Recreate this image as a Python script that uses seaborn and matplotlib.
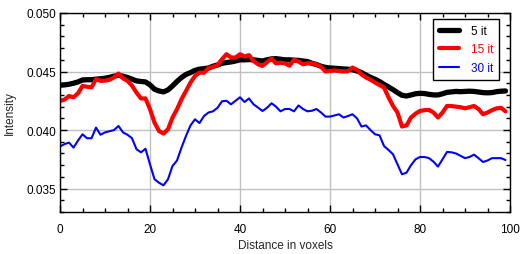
import numpy as np
import pandas as pd
import seaborn as sns
from matplotlib import pyplot as plt
from matplotlib.ticker import MultipleLocator

# Profile data (distance in voxels)
distance = list(range(100))

it5 = [0.04383, 0.04386, 0.04391, 0.04400, 0.04411, 0.04428, 0.04430, 0.04430, 0.04435, 0.04438,
       0.04443, 0.04450, 0.04460, 0.04468, 0.04460, 0.04449, 0.04435, 0.04420, 0.04415, 0.04411,
       0.04386, 0.04349, 0.04334, 0.04326, 0.04343, 0.04377, 0.04415, 0.04449, 0.04475, 0.04491,
       0.04510, 0.04520, 0.04525, 0.04530, 0.04545, 0.04556, 0.04570, 0.04577, 0.04582, 0.04590,
       0.04600, 0.04600, 0.04602, 0.04600, 0.04595, 0.04590, 0.04600, 0.04608, 0.04610, 0.04605,
       0.04600, 0.04600, 0.04597, 0.04595, 0.04590, 0.04585, 0.04570, 0.04560, 0.04545, 0.04535,
       0.04530, 0.04528, 0.04525, 0.04522, 0.04520, 0.04515, 0.04505, 0.04491, 0.04470, 0.04450,
       0.04434, 0.04415, 0.04390, 0.04368, 0.04345, 0.04320, 0.04297, 0.04291, 0.04300, 0.04310,
       0.04314, 0.04312, 0.04305, 0.04300, 0.04300, 0.04310, 0.04322, 0.04326, 0.04330, 0.04328,
       0.04330, 0.04332, 0.04330, 0.04325, 0.04320, 0.04318, 0.04320, 0.04328, 0.04332, 0.04334]

it15 = [0.04249, 0.04260, 0.04291, 0.04280, 0.04314, 0.04377, 0.04370, 0.04365, 0.04434, 0.04420,
        0.04422, 0.04430, 0.04450, 0.04483, 0.04442, 0.04420, 0.04380, 0.04320, 0.04270, 0.04270,
        0.04178, 0.04064, 0.03992, 0.03970, 0.04007, 0.04107, 0.04178, 0.04263, 0.04334, 0.04406,
        0.04462, 0.04491, 0.04490, 0.04530, 0.04540, 0.04555, 0.04605, 0.04648, 0.04620, 0.04620,
        0.04648, 0.04628, 0.04640, 0.04590, 0.04562, 0.04548, 0.04580, 0.04610, 0.04570, 0.04575,
        0.04570, 0.04550, 0.04600, 0.04585, 0.04562, 0.04570, 0.04570, 0.04560, 0.04540, 0.04500,
        0.04505, 0.04508, 0.04505, 0.04500, 0.04503, 0.04534, 0.04515, 0.04475, 0.04449, 0.04430,
        0.04406, 0.04385, 0.04363, 0.04280, 0.04206, 0.04150, 0.04030, 0.04040, 0.04107, 0.04140,
        0.04163, 0.04170, 0.04172, 0.04150, 0.04107, 0.04150, 0.04206, 0.04205, 0.04200, 0.04195,
        0.04186, 0.04195, 0.04206, 0.04180, 0.04135, 0.04150, 0.04170, 0.04185, 0.04190, 0.04160]

it30 = [0.03859, 0.03880, 0.03893, 0.03850, 0.03910, 0.03964, 0.03930, 0.03930, 0.04021, 0.03960,
        0.03980, 0.03990, 0.04000, 0.04035, 0.03980, 0.03960, 0.03930, 0.03836, 0.03810, 0.03840,
        0.03707, 0.03580, 0.03550, 0.03528, 0.03580, 0.03693, 0.03740, 0.03850, 0.03950, 0.04040,
        0.04092, 0.04060, 0.04120, 0.04150, 0.04160, 0.04190, 0.04246, 0.04250, 0.04220, 0.04250,
        0.04280, 0.04240, 0.04270, 0.04220, 0.04192, 0.04163, 0.04190, 0.04229, 0.04200, 0.04160,
        0.04180, 0.04180, 0.04160, 0.04210, 0.04180, 0.04160, 0.04165, 0.04180, 0.04150, 0.04115,
        0.04115, 0.04125, 0.04135, 0.04107, 0.04120, 0.04135, 0.04100, 0.04030, 0.04040, 0.04000,
        0.03964, 0.03955, 0.03864, 0.03830, 0.03793, 0.03707, 0.03622, 0.03636, 0.03700, 0.03750,
        0.03770, 0.03770, 0.03760, 0.03730, 0.03688, 0.03750, 0.03813, 0.03810, 0.03800, 0.03780,
        0.03760, 0.03770, 0.03790, 0.03760, 0.03727, 0.03740, 0.03760, 0.03760, 0.03760, 0.03744]

labels = ["5 it", "15 it", "30 it"]
colors = ["#000000", "#ff0000", "#0000ff"]
widths = [3.8, 3.0, 1.5]

df = pd.DataFrame({
    "distance": distance * 3,
    "intensity": it5 + it15 + it30,
    "series": [labels[0]] * 100 + [labels[1]] * 100 + [labels[2]] * 100,
})

sns.set_style("white")
plt.rcParams["font.family"] = ["Liberation Sans", "DejaVu Sans"]

fig = plt.figure(figsize=(5.30, 2.55), dpi=100)
ax = fig.add_axes([60 / 530, 42 / 255, 450 / 530, 199 / 255])

for lab, col, lw in zip(labels, colors, widths):
    sns.lineplot(data=df[df["series"] == lab], x="distance", y="intensity",
                 color=col, linewidth=lw, label=lab, ax=ax)

ax.set_xlim(0, 100)
ax.set_ylim(0.033, 0.050)
ax.xaxis.set_major_locator(MultipleLocator(20))
ax.xaxis.set_minor_locator(MultipleLocator(5))
ax.yaxis.set_minor_locator(MultipleLocator(0.001))
ax.set_yticks([0.035, 0.040, 0.045, 0.050])
ax.set_yticklabels(["0.035", "0.040", "0.045", "0.050"])
ax.grid(True, which="major", color="#c0c0c0", linewidth=1.0)
ax.set_axisbelow(True)

ax.tick_params(which="both", direction="in", top=True, right=True, bottom=True, left=True,
               labelsize=8.5, colors="black", width=1.0)
ax.tick_params(which="major", length=5)
ax.tick_params(axis="y", which="major", pad=3)
ax.tick_params(axis="x", which="major", pad=8)
ax.tick_params(which="minor", length=3)
for s in ax.spines.values():
    s.set_color("black")
    s.set_linewidth(1.0)

ax.set_xlabel("Distance in voxels", fontsize=8.5, labelpad=3)
ax.set_ylabel("Intensity", fontsize=8.5, labelpad=7)

leg = ax.legend(loc="upper right", bbox_to_anchor=(0.976, 0.97), frameon=True, fancybox=False,
                edgecolor="black", framealpha=1, fontsize=8.5, handlelength=1.7,
                borderpad=0.5, labelspacing=0.55, handletextpad=1.0, borderaxespad=0)
leg.get_frame().set_linewidth(1.0)
for txt, col in zip(leg.get_texts(), colors):
    txt.set_color(col)

fig.savefig("out.png", dpi=100)
